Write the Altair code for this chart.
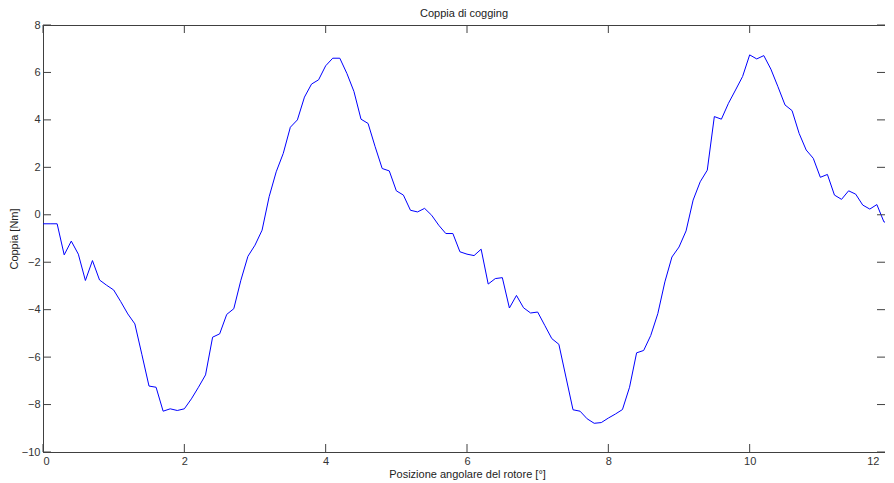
import altair as alt
import numpy as np
import pandas as pd

# Rotor angle samples (deg) and cogging torque (Nm)
angle = np.round(np.arange(121) * 0.1, 1)
torque = [
    -0.38, -0.38, -0.38, -1.69, -1.11, -1.66, -2.77, -1.93, -2.75, -2.97,
    -3.17, -3.66, -4.18, -4.60, -5.90, -7.22, -7.27, -8.28, -8.18, -8.25,
    -8.18, -7.76, -7.27, -6.75, -5.16, -5.02, -4.20, -3.96, -2.76, -1.75,
    -1.28, -0.65, 0.76, 1.81, 2.59, 3.69, 4.00, 4.96, 5.51, 5.69,
    6.28, 6.60, 6.60, 5.96, 5.20, 4.03, 3.85, 2.87, 1.95, 1.85,
    1.01, 0.83, 0.19, 0.12, 0.27, -0.02, -0.44, -0.79, -0.79, -1.56,
    -1.66, -1.72, -1.45, -2.92, -2.69, -2.65, -3.93, -3.40, -3.92, -4.14,
    -4.10, -4.66, -5.22, -5.46, -6.84, -8.22, -8.28, -8.60, -8.79, -8.76,
    -8.57, -8.40, -8.21, -7.27, -5.82, -5.72, -5.09, -4.17, -2.83, -1.78,
    -1.36, -0.68, 0.62, 1.39, 1.88, 4.14, 4.03, 4.70, 5.26, 5.83,
    6.74, 6.57, 6.71, 6.14, 5.40, 4.63, 4.39, 3.43, 2.73, 2.38,
    1.58, 1.70, 0.83, 0.65, 1.01, 0.87, 0.41, 0.24, 0.43, -0.30,
    -0.37,
]
x_ticks = [0, 2, 4, 6, 8, 10, 12]
y_ticks = [-10, -8, -6, -4, -2, 0, 2, 4, 6, 8]

title = "Coppia di cogging"
x_title = "Posizione angolare del rotore [°]"
y_title = "Coppia [Nm]"

W, H = 842, 427      # visible view (page is 894 px wide)
XR = 848             # full x range of the axes, as in the reference
AX = "#404040"
FONT = "Liberation Sans"

df = pd.DataFrame({"angle": angle, "torque": torque})
xt = pd.DataFrame({"v": x_ticks})
yt = pd.DataFrame({"v": y_ticks})

xscale = alt.Scale(domain=[0, 12], nice=False, zero=False, range=[0, XR])
yscale = alt.Scale(domain=[-10, 8], nice=False, zero=False)

xaxis = alt.Axis(values=x_ticks, title=x_title, format="d", grid=False,
                 ticks=False, titleX=XR / 2, titleY=22, titleBaseline="middle",
                 labelOffset={"condition": {"test": "datum.value == 12", "value": -12},
                              "value": 0})
yaxis = alt.Axis(values=y_ticks, title=y_title, format="d", grid=False,
                 ticks=False, titleX=-29, titleBaseline="middle",
                 titleAngle=-90, titleAlign="center")

line = alt.Chart(df).mark_line(color="#0000ff", strokeWidth=1).encode(
    x=alt.X("angle:Q", scale=xscale, axis=xaxis),
    y=alt.Y("torque:Q", scale=yscale, axis=yaxis),
)

tick_len = 8
left_ticks = alt.Chart(yt).mark_rule(color=AX, strokeWidth=1).encode(
    y=alt.Y("v:Q", scale=yscale, axis=yaxis),
    x=alt.value(0), x2=alt.value(tick_len))
right_ticks = alt.Chart(yt).mark_rule(color=AX, strokeWidth=1).encode(
    y=alt.Y("v:Q", scale=yscale, axis=yaxis),
    x=alt.value(W - tick_len), x2=alt.value(W))
bottom_ticks = alt.Chart(xt).mark_rule(color=AX, strokeWidth=1).encode(
    x=alt.X("v:Q", scale=xscale, axis=xaxis),
    y=alt.value(H - tick_len), y2=alt.value(H))
top_ticks = alt.Chart(xt).mark_rule(color=AX, strokeWidth=1).encode(
    x=alt.X("v:Q", scale=xscale, axis=xaxis),
    y=alt.value(0), y2=alt.value(tick_len))

chart = alt.layer(line, left_ticks, right_ticks, bottom_ticks, top_ticks).properties(
    width=W, height=H, background="white",
    title=alt.TitleParams(title, fontSize=11, fontWeight="normal", font=FONT,
                          color="#222222", offset=0, anchor="middle",
                          frame="group"),
    autosize=alt.AutoSizeParams(type="none"),
    padding={"left": 35, "top": 17, "right": 0, "bottom": 29},
).configure_view(
    stroke=AX, strokeWidth=1
).configure_axis(
    grid=False, ticks=False, tickSize=0, domainColor=AX, domainWidth=1,
    labelFont=FONT, labelFontSize=11, labelColor="#333333", labelPadding=3,
    titleFont=FONT, titleFontSize=11, titleFontWeight="normal", titleColor="#222222",
)

chart.save("out.html", embed_options={"renderer": "svg", "actions": False})
